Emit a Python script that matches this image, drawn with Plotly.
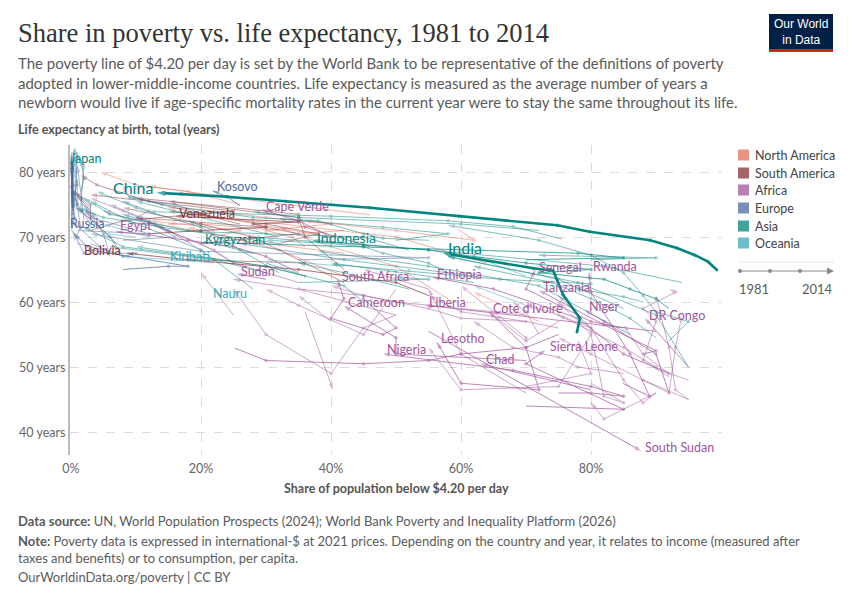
import plotly.graph_objects as go

# ---------------- DATA ----------------
region_colors = {"North America": "#E56E5A", "South America": "#883039", "Africa": "#A2559C",
                 "Europe": "#4C6A9C", "Asia": "#00847E", "Oceania": "#38AABA"}

asia_names = ["Vietnam", "Bangladesh", "Pakistan", "Philippines", "Sri Lanka", "Thailand", "Nepal", "Laos",
              "Cambodia", "Mongolia", "Tajikistan", "Uzbekistan", "Myanmar", "Timor-Leste", "Yemen", "Iraq",
              "Iran", "Malaysia", "Turkey", "Jordan", "Armenia", "Georgia", "Azerbaijan", "Kazakhstan",
              "Bhutan", "Israel", "South Korea", "Syria", "Maldives", "Turkmenistan", "Lebanon", "Palestine",
              "Japan", "Kyrgyzstan", "Indonesia", "India", "China"]
asia_years = [[1992, 1998, 2002, 2006, 2010, 2014], [1983, 1988, 1991, 1995, 2000, 2005, 2010, 2016],
              [1987, 1990, 1996, 2001, 2005, 2010, 2015], [1985, 1991, 1997, 2003, 2009, 2015],
              [1985, 1990, 1995, 2002, 2006, 2012, 2016], [1981, 1988, 1992, 1996, 2000, 2006, 2013],
              [1985, 1995, 2003, 2010], [1992, 1997, 2002, 2007, 2012], [1994, 2004, 2008, 2012],
              [1995, 2002, 2008, 2014], [1999, 2003, 2009, 2015], [1998, 2000, 2003], [2005, 2015],
              [2001, 2007, 2014], [1998, 2005, 2014], [2006, 2012], [1986, 1994, 2005, 2014],
              [1984, 1995, 2004, 2014], [1987, 1994, 2002, 2008, 2014], [1987, 1997, 2010],
              [1999, 2003, 2008, 2014], [1996, 2002, 2008, 2014], [1995, 2001, 2005],
              [1993, 1996, 2003, 2009, 2014], [2003, 2007, 2012], [1992, 2001, 2014], [2006, 2014],
              [1997, 2004], [2002, 2009], [1988, 1993, 1998], [2011], [2009, 2016],
              [2008, 2013], [1993, 1998, 2002, 2008, 2014],
              [1984, 1987, 1990, 1993, 1996, 1999, 2002, 2005, 2008, 2011, 2014],
              [1983, 1987, 1993, 2004, 2009, 2011],
              [1981, 1984, 1987, 1990, 1993, 1996, 1999, 2002, 2005, 2008, 2010, 2012, 2014]]
asia_poverty = [[75.5, 68, 58, 40, 25, 12], [92, 95, 90, 88, 85, 80, 72, 58],
                [88, 85, 78, 80, 66, 52, 40], [58, 55, 48, 45, 40, 30],
                [55, 48, 45, 38, 28, 14, 9], [52, 45, 30, 20, 18, 6, 2],
                [95, 90, 78, 58], [90, 86, 80, 74, 62], [86, 72, 55, 38],
                [45, 42, 30, 10], [94, 82, 55, 28], [80, 90, 72], [62, 40],
                [85, 75, 58], [52, 42, 35], [28, 22], [28, 20, 9, 3],
                [32, 14, 5, 1], [32, 26, 20, 10, 4], [16, 13, 8],
                [72, 60, 35, 28], [50, 58, 48, 32], [30, 22, 6],
                [30, 36, 30, 8, 2], [62, 42, 26], [1.5, 2, 1.5], [0.5, 0.3],
                [22, 18], [32, 10], [35, 55, 50], [3], [4, 3],
                [0.5, 0.6], [70, 85, 78, 45, 20],
                [92, 90, 86, 82, 72, 80, 70, 62, 55, 45, 37.2],
                [77.8, 78.3, 75.7, 74.2, 71.1, 57.2],
                [99.5, 98.0, 96.0, 93.2, 89.1, 79.8, 74.8, 59.8, 46.0, 33.0, 24.0, 17.0, 13.2]]
asia_life = [[69.7, 71.6, 72.5, 73.2, 73.6, 73.9], [54, 57, 58.5, 61, 64.5, 67.2, 69.5, 71.8],
             [60, 60.8, 62, 62.8, 63.5, 64.8, 65.8], [64.5, 66, 67.5, 68.5, 69, 69.5],
             [69.5, 69.8, 70.5, 72.5, 73, 75, 76.2], [68, 70, 70.5, 70.8, 71, 73.5, 76],
             [50, 58, 63, 67], [54.5, 57.5, 60.5, 63, 65.5], [55, 62.5, 65.5, 67.8],
             [60, 62.5, 65.5, 68.5], [63, 65.5, 68, 70], [66.5, 66.8, 67.2], [63, 66],
             [59, 63.5, 67], [62, 64.5, 66], [67.5, 69], [62, 68, 72.5, 75.5],
             [69, 71.5, 73, 74.5], [64.5, 68, 71.5, 74.5, 77], [70.5, 72, 73.5],
             [71, 72, 73, 74], [69.5, 70.5, 71.5, 72.8], [64.5, 66.5, 68.5],
             [66, 64, 65.5, 68.5, 71.5], [64, 66.5, 69], [77, 79, 82], [79, 82],
             [71, 72.5], [70, 75.5], [63, 63.5, 63.8], [77.5], [73, 74],
             [82.6, 83.8], [66.5, 66.8, 67.5, 68.5, 69.2],
             [59, 60.5, 62, 63.5, 64.5, 65, 66, 67, 68, 68.8, 69.5],
             [55.2, 57.5, 61.1, 64.8, 65.2, 67.5],
             [64.8, 66.2, 67.2, 68.3, 69.5, 70.8, 71.8, 73.2, 74.5, 75.5, 76.2, 76.6, 76.8]]

oceania_names = ["Papua New Guinea", "Fiji", "Solomon Islands", "Vanuatu", "Tonga", "Samoa", "Micronesia",
                 "Tuvalu", "Australia", "Kiribati", "Nauru"]
oceania_years = [[1996, 2009], [2002, 2008, 2013], [2005, 2012], [2010], [2001, 2015], [2002, 2013],
                 [2000, 2013], [2010], [1981, 1995, 2010, 2014], [2006], [2012]]
oceania_poverty = [[70, 62], [22, 16, 8], [70, 62], [48], [10, 5], [12, 5], [42, 30], [8],
                   [0.5, 0.8, 0.6, 0.5], [14.6], [21.2]]
oceania_life = [[59.5, 62.5], [66, 66.5, 67], [64, 67], [69], [70, 70.5], [70, 72], [65.5, 66.5], [66.3],
                [74.5, 78, 81.8, 82.3], [66.6], [60.9]]

europe_names = ["Ukraine", "Moldova", "Belarus", "Albania", "North Macedonia", "Romania", "Bulgaria", "Serbia",
                "Montenegro", "Bosnia and Herzegovina", "Poland", "Estonia", "Latvia", "Lithuania",
                "United Kingdom", "France", "Germany", "Italy", "Spain", "Netherlands", "Sweden", "Hungary",
                "Czechia", "Greece", "Portugal", "Slovakia", "Croatia", "Slovenia", "Belgium", "Austria",
                "Finland", "Norway", "Switzerland", "Ireland", "Russia", "Kosovo"]
europe_years = [[1992, 1996, 1999, 2005, 2014], [1997, 2000, 2005, 2014], [1993, 1999, 2014],
                [1996, 2002, 2008, 2014], [2002, 2008, 2014], [1989, 1998, 2006, 2014], [1989, 1997, 2007, 2014],
                [2002, 2014], [2005, 2014], [2001, 2011], [1985, 1995, 2005, 2014], [1993, 2000, 2014],
                [1993, 2000, 2014], [1993, 2000, 2014], [1981, 1995, 2014], [1981, 1995, 2014],
                [1981, 1995, 2014], [1981, 1995, 2014], [1981, 1995, 2014], [1981, 2014], [1981, 2014],
                [1987, 2000, 2014], [1988, 1996, 2014], [1981, 2014], [1985, 2014],
                [1988, 2000, 2014], [1998, 2014], [1987, 2014], [1985, 2014], [1987, 2014],
                [1987, 2014], [1986, 2014], [1982, 2014], [1987, 2014],
                [1993, 1996, 2001, 2008, 2014], [2003, 2009, 2014]]
europe_poverty = [[3, 8, 10, 2, 0.2], [35, 55, 20, 3], [1, 5, 0.1], [22, 16, 9, 8], [10, 12, 8],
                  [8, 16, 12, 6], [1, 12, 3, 2], [4, 2], [3, 1], [3, 1], [2, 3, 1, 0.3], [6, 5, 0.5],
                  [8, 6, 1], [7, 4, 0.8], [0.3, 0.5, 0.2], [0.2, 0.3, 0.1], [0.3, 0.3, 0.2], [0.5, 0.8, 0.8],
                  [0.6, 0.8, 1], [0.2, 0.1], [0.1, 0.1], [0.5, 1.5, 0.8], [0.1, 0.2, 0.1], [1.5, 2], [2, 1],
                  [0.1, 0.5, 0.3], [0.5, 0.3], [0.1, 0.1], [0.2, 0.1], [0.2, 0.2], [0.1, 0.1], [0.1, 0.1],
                  [0.1, 0.1], [0.3, 0.2],
                  [8, 15, 18, 3, 0.5], [26, 24, 21.8]]
europe_life = [[69, 67, 67.5, 67.5, 71], [66.5, 66.8, 67.8, 70.5], [69, 68, 72.5], [73, 75, 76, 78],
               [73, 74, 75.5], [69.5, 70, 72.5, 75], [71, 70.5, 73, 74.5], [72.5, 75], [74, 76.5], [74.5, 76.5],
               [71, 72, 75, 77.5], [67, 70.5, 77], [67, 70, 74.5], [69, 72, 74.5], [74, 76.8, 81.2],
               [74.5, 78, 82.5], [73.5, 76.5, 81], [74.5, 78.5, 83], [75.5, 78, 83], [76, 81.5], [76, 82],
               [69.5, 71.5, 75.8], [71.5, 73.5, 78.5], [74.5, 81.5], [72.5, 81],
               [71, 73, 76.5], [72.5, 77.5], [72, 80.5], [74.5, 81], [74.5, 81.5], [74.8, 81.2], [76, 82],
               [76.5, 83], [74, 81.5],
               [65, 65.5, 65.5, 68, 70.5], [74.8, 76.2, 77.1]]

north_america_names = ["Mexico", "Guatemala", "Honduras", "El Salvador", "Nicaragua", "Panama", "Costa Rica",
                       "Dominican Republic", "Jamaica", "Haiti", "United States", "Canada", "Belize",
                       "Trinidad and Tobago", "Saint Lucia"]
north_america_years = [[1984, 1989, 1992, 1996, 2000, 2005, 2010, 2014], [1986, 1998, 2006, 2014],
                       [1989, 1994, 2005, 2014], [1989, 2000, 2008, 2014], [1993, 2001, 2009, 2014],
                       [1989, 2000, 2014], [1981, 1990, 2000, 2014], [1986, 1996, 2004, 2014],
                       [1988, 1996, 2004], [2001, 2012], [1981, 1995, 2014], [1981, 2014], [1993, 1999],
                       [1988, 1992], [1995, 2016]]
north_america_poverty = [[36, 34, 30, 40, 30, 22, 20, 15], [58, 50, 40, 32], [59.5, 62, 50, 36],
                         [42, 32, 22, 13], [64, 50, 28, 18], [46, 25, 12], [26, 18, 10, 4.5],
                         [42, 22, 26, 12], [32, 20, 15], [72, 62], [0.8, 1, 1], [0.3, 0.3], [42, 35], [20, 18],
                         [40, 20]]
north_america_life = [[68.5, 70, 71, 72, 73, 74, 74.2, 74.5], [60.5, 65.5, 68.5, 71.5], [71.2, 69.5, 71, 72.5],
                      [64, 68, 70.5, 72], [66, 70, 72.5, 73.5], [73.4, 76, 77.8], [75, 77, 78, 80],
                      [67.5, 70, 71, 72.5], [71, 72, 72], [57, 61.5], [74.2, 75.8, 78.8], [75.5, 81.8],
                      [71, 70.5], [71, 71.5], [70, 73.5]]

south_america_names = ["Brazil", "Colombia", "Peru", "Ecuador", "Paraguay", "Argentina", "Chile", "Uruguay",
                       "Guyana", "Suriname", "Venezuela", "Bolivia"]
south_america_years = [[1981, 1990, 1999, 2005, 2014], [1989, 1999, 2005, 2014], [1985, 1997, 2004, 2014],
                       [1987, 1995, 2005, 2014], [1990, 1999, 2005, 2014], [1986, 1995, 2002, 2014],
                       [1987, 1996, 2006, 2013], [1989, 2002, 2014], [1992, 1998], [1999],
                       [1981, 1989, 1995, 1998, 2003, 2006], [1997, 2002, 2007, 2011, 2014]]
south_america_poverty = [[42, 36, 28, 20, 8], [32, 38, 30, 15], [42, 36, 35, 15], [46, 36, 35, 10],
                         [20, 35, 30, 10], [3, 8, 25, 3], [26, 12, 4, 1.5], [3, 3, 0.5], [36, 18], [40],
                         [12, 20, 30, 28, 35, 16], [55, 50, 35, 18, 8.6]]
south_america_life = [[63, 66, 70, 72, 74.5], [69, 70.5, 72, 74], [65, 70, 73, 75.5], [68.5, 71.5, 73.5, 76],
                      [69, 70.5, 71.5, 73], [71, 72.5, 74, 76.5], [72, 75.5, 78, 79.5], [72.5, 75, 77],
                      [66, 66.5], [68.5], [70.5, 71, 71.5, 72, 72.3, 73.2], [61, 63, 65, 66.5, 67.5]]

africa_names = ["Kenya", "Uganda", "Ghana", "Mali", "Burkina Faso", "Mozambique", "Madagascar", "Malawi",
                "Zambia", "Zimbabwe", "Burundi", "Central African Republic", "Guinea", "Benin", "Togo",
                "Gambia", "Mauritania", "Morocco", "Tunisia", "Algeria", "Namibia", "Botswana", "Eswatini",
                "Angola", "Congo", "Djibouti", "Comoros", "Sao Tome and Principe", "Guinea-Bissau",
                "Mauritius", "Gabon",
                "Egypt", "Cape Verde", "Sudan", "South Africa", "Ethiopia", "Senegal", "Rwanda", "Tanzania",
                "Cameroon", "Liberia", "Cote d'Ivoire", "Niger", "DR Congo", "Lesotho", "Sierra Leone",
                "Nigeria", "Chad", "South Sudan"]
africa_years = [[1992, 1997, 2005, 2015], [1989, 1996, 2002, 2009, 2016], [1987, 1991, 1998, 2005, 2012, 2016],
                [1994, 2001, 2006, 2009], [1994, 1998, 2003, 2009, 2014], [1996, 2002, 2008, 2014],
                [1980, 1993, 2001, 2005, 2010, 2012], [1997, 2004, 2010, 2016], [1991, 1996, 2002, 2010, 2015],
                [1995, 2011], [1992, 1998, 2006, 2013], [1992, 2003, 2008], [1991, 1994, 2002, 2007, 2012],
                [2003, 2011, 2015], [2006, 2011, 2015], [1998, 2003, 2010], [1987, 1996, 2000, 2008, 2014],
                [1985, 1991, 2000, 2007, 2014], [1985, 1995, 2005, 2015], [1988, 1995, 2011],
                [1993, 2003, 2009, 2015], [1986, 1994, 2003, 2009, 2015], [1995, 2001, 2010, 2016],
                [2000, 2008, 2018], [2005, 2011], [2002, 2013], [2004, 2014], [2000, 2010], [1991, 2002, 2010],
                [2006, 2012], [2005, 2017],
                [1991, 1996, 2000, 2005, 2010, 2015], [2001, 2007, 2015], [2009, 2014],
                [1993, 1996, 2000, 2005, 2008, 2010, 2014], [1995, 1999, 2004, 2010, 2015],
                [1991, 1994, 2001, 2005, 2011], [1984, 2000, 2005, 2010, 2013], [1991, 2000, 2007, 2011],
                [1996, 2001, 2007, 2014], [2007, 2014], [1985, 1988, 1993, 1998, 2002, 2008, 2015],
                [1992, 2005, 2011, 2014], [2004, 2012], [1986, 1993, 2002, 2010, 2017],
                [1989, 2003, 2011, 2018], [1985, 1992, 1996, 2003, 2009, 2018], [2003, 2011], [2009, 2016]]
africa_poverty = [[75, 70, 70, 60], [90, 88, 85, 80, 75], [75, 70, 60, 55, 45, 40], [95, 88, 80, 75],
                  [92, 90, 85, 80, 75], [95, 92, 88, 85], [92, 88, 90, 88, 93, 92], [95, 93, 92, 90],
                  [80, 85, 82, 80, 75], [36, 40.3], [88, 92, 93, 94], [90, 82, 80], [85, 78, 75, 68, 62],
                  [72, 70, 68], [80, 75, 70], [70, 60, 55], [70, 50, 45, 35, 25], [35, 25, 20, 12, 5],
                  [20, 15, 8, 3], [25, 22, 10], [50, 45, 35, 30], [50, 45, 40, 30, 25], [80, 75, 60, 55],
                  [70, 60, 55], [70, 65], [40, 35], [50, 35], [55, 45], [70, 80, 78], [5, 2], [25, 20],
                  [35, 30, 25, 18, 12, 7], [40, 35, 29.4], [30, 25.5], [45, 45, 50, 48, 40, 42, 41],
                  [92, 85, 78, 65, 55.7], [85, 80, 75, 70, 71.4], [84.9, 89, 86, 80, 79.7], [88, 90, 82, 72],
                  [70, 50, 50, 42], [90, 54.5], [25.2, 30, 45, 55, 60, 70, 64.3], [92, 90, 82, 79],
                  [95, 88.3], [75, 70, 72, 60, 56.3], [70, 85, 70, 73], [75, 80, 85, 80, 68, 48], [80, 63],
                  [55, 87.7]]
africa_life = [[57, 54, 54.5, 62.5], [46, 44.5, 48, 56, 61], [56, 57, 57.5, 59, 61, 62.5], [45, 48, 52, 54.5],
               [49, 50, 53, 55.5, 58], [48, 49, 52, 56.5], [48.5, 51, 57, 59, 61.5, 62], [45, 46.5, 53, 61],
               [47.5, 44.5, 45.5, 55, 60], [58.5, 46.5], [48, 46, 53, 58], [46, 42, 44.5], [49, 50, 51.5, 53, 57],
               [55, 58.5, 60], [56, 58, 59.5], [57, 58.5, 61], [58, 60, 61, 62, 63.5], [63, 66, 69, 72, 74],
               [68, 71, 74, 76], [66, 68, 73], [62, 55, 59.5, 62], [58, 56, 49, 55, 62], [55, 47, 46.5, 53],
               [46, 52, 62], [54, 58], [57, 61], [58, 62], [62, 65], [47, 49, 54], [72, 74], [58, 64.5],
               [64.5, 67, 68.5, 69.5, 70.3, 70.8], [70, 72.5, 74.2], [63.5, 64.3],
               [61, 60.5, 56, 55, 57.5, 60.5, 63.4], [49, 52, 57.5, 62, 63.8], [56, 57, 59.5, 62, 64.9],
               [47.5, 45.5, 52, 61.5, 64.5], [52, 52.5, 56.5, 61.8], [51, 52, 54.5, 59.4], [55.5, 59.5],
               [52.9, 51, 50.5, 51, 52, 53, 58.5], [46, 52, 57, 58.8], [50, 57.5], [55, 53, 46.5, 47.5, 53.8],
               [44, 43.5, 50.5, 52.6], [46, 46, 45.5, 47, 49.5, 52], [46.5, 50.5], [55.5, 37.1]]

y_ticks = [40, 50, 60, 70, 80]
x_ticks = [0, 20, 40, 60, 80]

# ---------------- STYLE / LAYOUT ----------------
PL, PR, PT, PB = 70, 722, 145, 455
X_RANGE = [(PL - 71) / 6.5, (PR - 71) / 6.5]
Y_RANGE = [80 - (PB - 172) / 6.5, 80 - (PT - 172) / 6.5]


def P(px, py):
    return (px - PL) / (PR - PL), (PB - py) / (PB - PT)


FONT = "Lato, 'Noto Sans', sans-serif"
highlight = {"China": 16, "India": 16, "Indonesia": 14}
labeled = ["Japan", "China", "Kosovo", "Cape Verde", "Venezuela", "Russia", "Egypt", "Indonesia", "India",
           "Kyrgyzstan", "Bolivia", "Kiribati", "Sudan", "Senegal", "Rwanda", "South Africa", "Ethiopia",
           "Tanzania", "Nauru", "Cameroon", "Liberia", "Cote d'Ivoire", "Niger", "DR Congo", "Lesotho",
           "Sierra Leone", "Nigeria", "Chad", "South Sudan"]
label_style = {"Japan": ("left", -7, -11), "Russia": ("left", -6, 10), "Bolivia": ("right", -4, 3),
               "China": ("right", -2, 5), "India": ("left", 3, 6), "Egypt": ("left", 1, 6),
               "Kosovo": ("left", 2, 4), "Rwanda": ("left", 2, 6), "Nigeria": ("left", 2, 5),
               "Lesotho": ("left", 2, 4), "Sierra Leone": ("left", 2, 4), "Chad": ("left", 3, 4)}

regions = [
    ("North America", north_america_names, north_america_years, north_america_poverty, north_america_life),
    ("South America", south_america_names, south_america_years, south_america_poverty, south_america_life),
    ("Europe", europe_names, europe_years, europe_poverty, europe_life),
    ("Oceania", oceania_names, oceania_years, oceania_poverty, oceania_life),
    ("Africa", africa_names, africa_years, africa_poverty, africa_life),
    ("Asia", asia_names, asia_years, asia_poverty, asia_life),
]

fig = go.Figure()
annotations = []
late = []
for region, names, years, pov, life in regions:
    col = region_colors[region]
    for n, yrs, xs, ys in zip(names, years, pov, life):
        big = n in ("China", "India")
        k = len(xs)
        if k > 1:
            symbols = ["circle"] * (k - 1) + ["arrow"]
            sizes = [3.5] * (k - 1) + [7 if not big else 9]
        else:
            symbols = ["circle"]
            sizes = [4]
        tr = go.Scatter(
            x=xs, y=ys, mode="lines+markers", name=n, showlegend=False,
            line=dict(color=col, width=2.6 if big else 1),
            marker=dict(color=col, symbol=symbols, size=sizes, angleref="previous", line=dict(width=0)),
            opacity=1.0 if big else (0.7 if n in labeled else 0.5),
            customdata=yrs, hovertemplate=n + " %{customdata}<br>%{x:.1f}%, %{y:.1f} years<extra></extra>",
        )
        if big or n in labeled:
            late.append(tr)
        else:
            fig.add_trace(tr)
        if n in labeled:
            anc, dx, dy = label_style.get(n, ("left", 2, 3))
            annotations.append(dict(
                x=xs[-1], y=ys[-1], xref="x", yref="y", text=n, showarrow=False,
                xanchor=anc, yanchor="middle", xshift=dx, yshift=dy,
                font=dict(family=FONT, size=highlight.get(n, 12.5), color=col)))
for tr in late:
    fig.add_trace(tr)

# y tick labels (left aligned)
for v in y_ticks:
    xp, yp = P(17, 0)
    annotations.append(dict(x=xp, y=v, xref="paper", yref="y", text=f"{v} years", showarrow=False,
                            xanchor="left", yanchor="middle", font=dict(family=FONT, size=12.5, color="#666")))


def txt(px, py, text, size, color, family=FONT, anchor="left", align="left"):
    xp, yp = P(px, py)
    annotations.append(dict(x=xp, y=yp, xref="paper", yref="paper", text=text, showarrow=False,
                            xanchor=anchor, yanchor="middle", align=align,
                            font=dict(family=family, size=size, color=color)))


txt(16, 33, "Share in poverty vs. life expectancy, 1981 to 2014", 26.5, "#333",
    family="'Liberation Serif', 'DejaVu Serif', serif")
txt(16, 82, "The poverty line of $4.20 per day is set by the World Bank to be representative of the definitions of poverty<br>"
    "adopted in lower-middle-income countries. Life expectancy is measured as the average number of years a<br>"
    "newborn would live if age-specific mortality rates in the current year were to stay the same throughout its life.",
    15, "#5b5b5b")
txt(16, 129, "<b>Life expectancy at birth, total (years)</b>", 12.5, "#555")
txt(396, 488, "<b>Share of population below $4.20 per day</b>", 12.5, "#555", anchor="center")
txt(16, 521, "<b>Data source:</b> UN, World Population Prospects (2024); World Bank Poverty and Inequality Platform (2026)",
    13, "#5b5b5b")
txt(16, 549, "<b>Note:</b> Poverty data is expressed in international-$ at 2021 prices. Depending on the country and year, it relates to income (measured after<br>"
    "taxes and benefits) or to consumption, per capita.", 13, "#5b5b5b")
txt(16, 577, "OurWorldinData.org/poverty | CC BY", 13, "#5b5b5b")

shapes = []
# logo
x0, y0 = P(769, 14); x1, y1 = P(833, 49)
shapes.append(dict(type="rect", xref="paper", yref="paper", x0=x0, y0=y0, x1=x1, y1=y1,
                   fillcolor="#002147", line=dict(width=0)))
x0, y0 = P(769, 49); x1, y1 = P(833, 52)
shapes.append(dict(type="rect", xref="paper", yref="paper", x0=x0, y0=y0, x1=x1, y1=y1,
                   fillcolor="#CE261E", line=dict(width=0)))
txt(801, 32, "Our World<br>in Data", 12, "white", family="'Liberation Sans Narrow', 'Liberation Sans', sans-serif",
    anchor="center", align="center")

# legend
legend_rows = [("North America", 155), ("South America", 173), ("Africa", 190), ("Europe", 208),
               ("Asia", 226), ("Oceania", 243)]
for name, py in legend_rows:
    x0, y0 = P(738, py + 5.5); x1, y1 = P(749, py - 5.5)
    shapes.append(dict(type="rect", xref="paper", yref="paper", x0=x0, y0=y0, x1=x1, y1=y1,
                       fillcolor=region_colors[name], opacity=0.75, line=dict(width=0)))
    txt(753, py, name, 12.5, "#444")
# separator and timeline
x0, y0 = P(738, 262); x1, _ = P(834, 262)
shapes.append(dict(type="line", xref="paper", yref="paper", x0=x0, y0=y0, x1=x1, y1=y0,
                   line=dict(color="#e6e6e6", width=1)))
x0, y0 = P(740, 271); x1, _ = P(830, 271)
shapes.append(dict(type="line", xref="paper", yref="paper", x0=x0, y0=y0, x1=x1, y1=y0,
                   line=dict(color="#8a8a8a", width=1)))
for px in (740, 770, 800):
    cx, cy = P(px, 271)
    shapes.append(dict(type="circle", xref="paper", yref="paper", x0=cx - 2 / 652, x1=cx + 2 / 652,
                       y0=cy - 2 / 310, y1=cy + 2 / 310, fillcolor="#8a8a8a", line=dict(width=0)))
ax, ay = P(834, 271)
shapes.append(dict(type="path", xref="paper", yref="paper",
                   path=f"M {ax} {ay} L {ax - 7/652} {ay + 3.5/310} L {ax - 7/652} {ay - 3.5/310} Z",
                   fillcolor="#8a8a8a", line=dict(width=0)))
txt(737, 289, "1981", 13, "#5b5b5b")
txt(835, 289, "2014", 13, "#5b5b5b", anchor="right")

fig.update_layout(
    width=850, height=600, paper_bgcolor="white", plot_bgcolor="white",
    margin=dict(l=PL, r=850 - PR, t=PT, b=600 - PB, autoexpand=False),
    xaxis=dict(range=X_RANGE, tickvals=x_ticks, ticktext=[f"{v}%" for v in x_ticks], showgrid=True,
               gridcolor="#dcdcdc", griddash="dash", gridwidth=1, zeroline=False, showline=False,
               tickfont=dict(family=FONT, size=12.5, color="#666"), ticks="", ticklabelstandoff=4),
    yaxis=dict(range=Y_RANGE, tickvals=y_ticks, showticklabels=False, showgrid=True, gridcolor="#dcdcdc",
               griddash="dash", gridwidth=1, zeroline=False, showline=True, linecolor="#bbb", linewidth=1.5,
               ticks=""),
    annotations=annotations, shapes=shapes, hovermode="closest",
)
fig.write_html("out.html")
